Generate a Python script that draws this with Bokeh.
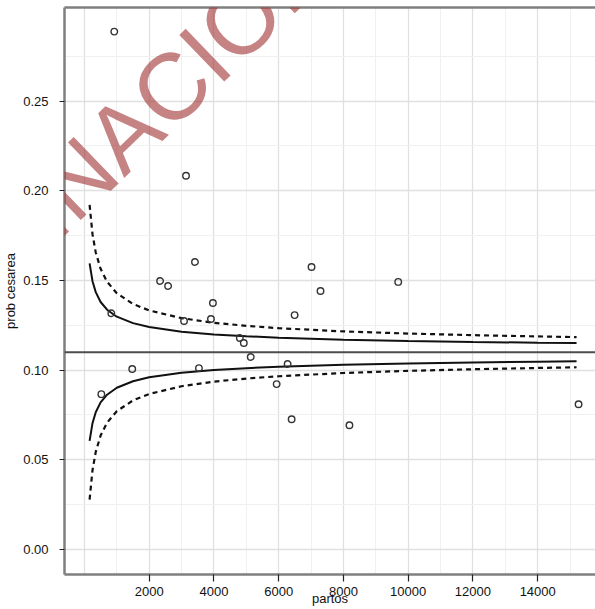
from bokeh.plotting import figure
from bokeh.models import Range1d, FixedTicker, LinearAxis, Label, Span, NumeralTickFormatter
from bokeh.embed import file_html
from bokeh.resources import INLINE

# observed data (partos, prob cesarea)
partos = [923, 3138, 3415, 2338, 2585, 7015, 7292, 9692, 3969, 3077, 3908, 6492,
          831, 4800, 4923, 5138, 6277, 1477, 3538, 523, 5938, 6400, 8185, 15262]
prob = [0.2888, 0.2084, 0.1603, 0.1497, 0.1469, 0.1575, 0.1441, 0.1492, 0.1374, 0.1274,
        0.1285, 0.1307, 0.1317, 0.1179, 0.1151, 0.1073, 0.1034, 0.1006, 0.1011, 0.0866,
        0.0922, 0.0726, 0.0693, 0.0810]

p_media = 0.110

# control limits
n_lim = [160, 250, 350, 500, 700, 1000, 1500, 2000, 3000, 4000, 5000, 6000, 8000,
         10000, 12000, 14000, 15200]
solid_hi = [0.1595, 0.1496, 0.1435, 0.1380, 0.1337, 0.1298, 0.1262, 0.1240, 0.1214,
            0.1199, 0.1189, 0.1181, 0.1170, 0.1163, 0.1157, 0.1153, 0.1151]
solid_lo = [0.0605, 0.0704, 0.0765, 0.0820, 0.0863, 0.0902, 0.0938, 0.0960, 0.0986,
            0.1001, 0.1011, 0.1019, 0.1030, 0.1037, 0.1043, 0.1047, 0.1049]
dash_hi = [0.1922, 0.1758, 0.1656, 0.1565, 0.1493, 0.1429, 0.1369, 0.1333, 0.1290,
           0.1264, 0.1247, 0.1234, 0.1216, 0.1204, 0.1195, 0.1188, 0.1184]
dash_lo = [0.0278, 0.0442, 0.0544, 0.0635, 0.0707, 0.0771, 0.0831, 0.0867, 0.0910,
           0.0936, 0.0953, 0.0966, 0.0984, 0.0996, 0.1005, 0.1012, 0.1016]

x_ticks = [2000, 4000, 6000, 8000, 10000, 12000, 14000]
x_grid_major = [0, 2000, 4000, 6000, 8000, 10000, 12000, 14000]
x_grid_minor = [1000, 3000, 5000, 7000, 9000, 11000, 13000, 15000]
y_ticks = [0.0, 0.05, 0.10, 0.15, 0.20, 0.25]
y_grid_minor = [0.025, 0.075, 0.125, 0.175, 0.225, 0.275]

FONT = "Liberation Sans"
BORDER = "#7f7f7f"

p = figure(width=595, height=609, x_range=Range1d(-615, 15785),
           y_range=Range1d(-0.01397, 0.30223), output_backend="svg",
           toolbar_location=None, min_border_left=62, min_border_right=0,
           min_border_top=7, min_border_bottom=35)
p.outline_line_color = None
p.background_fill_color = "white"
p.border_fill_color = "white"

# axes
p.xaxis.ticker = FixedTicker(ticks=x_ticks)
p.yaxis.ticker = FixedTicker(ticks=y_ticks)
p.yaxis.formatter = NumeralTickFormatter(format="0.00")
for ax in (p.xaxis, p.yaxis):
    ax.axis_line_color = BORDER
    ax.axis_line_width = 2.5
    ax.major_tick_in = 0
    ax.major_tick_line_color = "#222222"
    ax.major_tick_line_width = 1.2
    ax.minor_tick_line_color = None
    ax.major_label_text_font = FONT
    ax.major_label_text_font_size = "13px"
    ax.major_label_text_color = "#111111"
    ax.axis_label_text_font = FONT
    ax.axis_label_text_font_size = "13px"
    ax.axis_label_text_font_style = "normal"
    ax.axis_label_text_color = "#111111"
p.xaxis.major_tick_out = 7
p.xaxis.major_label_standoff = 5
p.xaxis.axis_label = "partos"
p.xaxis.axis_label_standoff = -8
p.yaxis.major_tick_out = 5
p.yaxis.major_label_standoff = 11
p.yaxis.axis_label = "prob cesarea"
p.yaxis.axis_label_standoff = 2

top = LinearAxis(ticker=FixedTicker(ticks=[]), major_tick_out=0, major_tick_in=0,
                 minor_tick_out=0, minor_tick_in=0, major_label_text_font_size="0px",
                 major_label_standoff=0, axis_line_color=BORDER, axis_line_width=2.5)
p.add_layout(top, "above")

# grids
p.xgrid.ticker = FixedTicker(ticks=x_grid_major, minor_ticks=x_grid_minor)
p.ygrid.ticker = FixedTicker(ticks=y_ticks, minor_ticks=y_grid_minor)
for g in (p.xgrid, p.ygrid):
    g.grid_line_color = "#e0e0e0"
    g.grid_line_width = 1.3
    g.minor_grid_line_color = "#f0f0f0"
    g.minor_grid_line_width = 1

# mean line
p.add_layout(Span(location=p_media, dimension="width", line_color="#4d4d4d", line_width=2))

# control limits
p.line(n_lim, solid_hi, line_color="#111111", line_width=2)
p.line(n_lim, solid_lo, line_color="#111111", line_width=2)
p.line(n_lim, dash_hi, line_color="#111111", line_width=2.2, line_dash="5 4")
p.line(n_lim, dash_lo, line_color="#111111", line_width=2.2, line_dash="5 4")

# points
p.scatter(partos, prob, marker="circle", size=6.5, fill_color=None,
          line_color="#333333", line_width=1.4)

# watermark
p.add_layout(Label(x=-5815, y=0.1095, text="PAGINACIÓN", angle=44, angle_units="deg",
                   text_align="left", text_baseline="alphabetic", text_font=FONT,
                   text_font_size="94px", text_color="#a03030", text_alpha=0.6,
                   level="overlay"))

open("out.html", "w").write(file_html(p, INLINE))
